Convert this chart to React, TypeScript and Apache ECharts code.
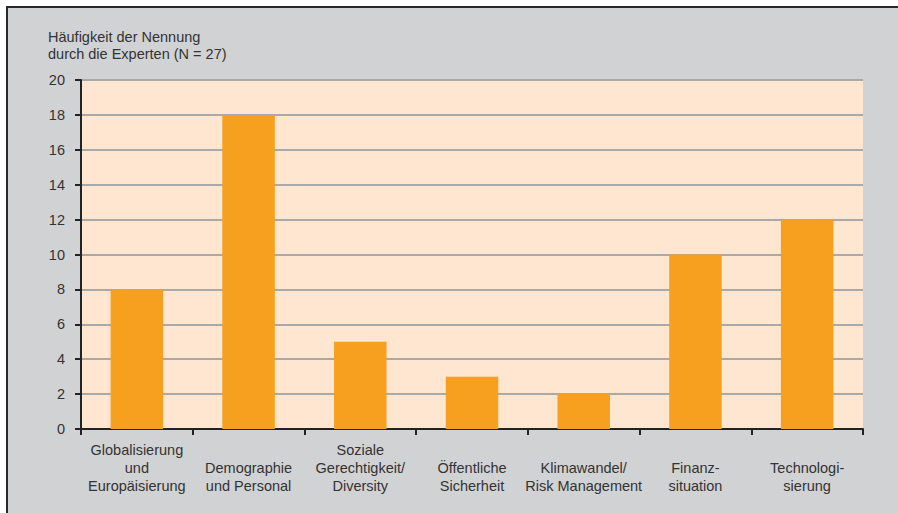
import React, { useEffect, useRef } from "react";
import * as echarts from "echarts";

const categories = [
  "Globalisierung\nund\nEuropäisierung",
  "Demographie\nund Personal",
  "Soziale\nGerechtigkeit/\nDiversity",
  "Öffentliche\nSicherheit",
  "Klimawandel/\nRisk Management",
  "Finanz-\nsituation",
  "Technologi-\nsierung",
];
const values = [8, 18, 5, 3, 2, 10, 12];
const yTitle = "Häufigkeit der Nennung\ndurch die Experten (N = 27)";

export default function App() {
  const ref = useRef<HTMLDivElement>(null);
  useEffect(() => {
    document.body.style.margin = "0";
    const chart = echarts.init(ref.current!, null, { renderer: "svg" });
    const font = "Liberation Sans, Arial, sans-serif";
    chart.setOption({
      animation: false,
      backgroundColor: "#ffffff",
      textStyle: { fontFamily: font },
      graphic: [
        {
          type: "rect",
          z: -10,
          shape: { x: 7, y: 7, width: 895, height: 510 },
          style: { fill: "#d1d2d4", stroke: "#2a2a2a", lineWidth: 2 },
        },
        {
          type: "text",
          left: 48,
          top: 28,
          style: {
            text: yTitle,
            fill: "#333333",
            font: `14.5px ${font}`,
            lineHeight: 17,
          },
        },
      ],
      grid: {
        left: 81,
        right: 35,
        top: 80,
        bottom: 84,
        show: true,
        backgroundColor: "#fee6d1",
        borderWidth: 0,
      },
      xAxis: {
        type: "category",
        data: categories,
        boundaryGap: true,
        axisLine: { show: true, lineStyle: { color: "#222222", width: 2 } },
        axisTick: { show: true, length: 6, alignWithLabel: false, lineStyle: { color: "#222222", width: 2 } },
        axisLabel: {
          interval: 0,
          color: "#333333",
          fontSize: 14.5,
          fontFamily: font,
          lineHeight: 18,
          verticalAlign: "bottom",
          margin: 66,
        },
      },
      yAxis: {
        type: "value",
        min: 0,
        max: 20,
        interval: 2,
        axisLine: { show: true, lineStyle: { color: "#222222", width: 2 } },
        axisTick: { show: true, length: 6, lineStyle: { color: "#222222", width: 2 } },
        axisLabel: { color: "#333333", fontSize: 14.5, fontFamily: font, margin: 16 },
        splitLine: { show: true, lineStyle: { color: "#a9a9aa", width: 2 } },
      },
      series: [
        {
          type: "bar",
          data: values,
          barWidth: "47%",
          itemStyle: { color: "#f7a01f" },
          z: 3,
        },
      ],
    });
    return () => chart.dispose();
  }, []);
  return <div ref={ref} style={{ width: 898, height: 513 }} />;
}
